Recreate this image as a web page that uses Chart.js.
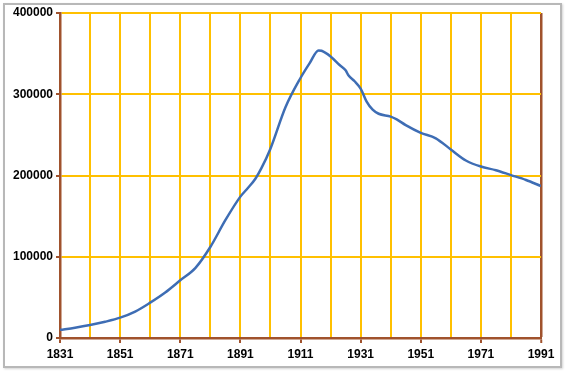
<!DOCTYPE html>
<html lang="en">
<head>
    <meta charset="UTF-8">
    <title>Population 1831-1991</title>
    <script src="https://cdn.jsdelivr.net/npm/chart.js"></script>
    <style>
        body { margin: 0; background: #ffffff; }
        #wrap { position: relative; width: 566px; height: 373px; }
        #frame {
            position: absolute; left: 3px; top: 3px; width: 555px; height: 361px;
            border: 2px solid #b8b8b8; box-shadow: 1px 1px 2px #d4d4d4;
        }
        canvas { position: absolute; left: 0; top: 0; }
    </style>
</head>
<body>
    <div id="wrap">
        <div id="frame"></div>
        <canvas id="popChart" width="566" height="373"></canvas>
    </div>
    <script>
        // values
        const years = [1831, 1836, 1841, 1846, 1851, 1856, 1861, 1866, 1871, 1876,
            1881, 1886, 1891, 1893, 1896, 1898, 1901, 1906, 1911, 1914,
            1917, 1918, 1921, 1924, 1926, 1927, 1929, 1931, 1933, 1935,
            1937, 1941, 1943, 1946, 1951, 1956, 1961, 1966, 1971, 1976,
            1981, 1986, 1991];
        const population = [10000, 12700, 16000, 20000, 25000, 32500, 43500, 56000, 71000, 86000,
            112000, 145000, 174000, 182500, 196000, 209000, 233000, 284000, 320000, 338000,
            354000, 353500, 346500, 336000, 329500, 323000, 316000, 307000, 291000, 281000,
            276000, 272500, 269000, 262000, 252500, 245800, 232000, 218500, 211000, 206500,
            200500, 194500, 187000];
        const gridYears = [1831, 1841, 1851, 1861, 1871, 1881, 1891, 1901, 1911, 1921,
            1931, 1941, 1951, 1961, 1971, 1981, 1991];
        const labelYears = [1831, 1851, 1871, 1891, 1911, 1931, 1951, 1971, 1991];
        const yTicks = [0, 100000, 200000, 300000, 400000];

        const gold = '#ffc000';
        const brown = '#a0522d';
        const blue = '#3e6db4';
        const tickFont = { family: 'Liberation Sans', size: 12, weight: 'bold' };

        const ctx = document.getElementById('popChart').getContext('2d');
        new Chart(ctx, {
            type: 'line',
            data: {
                datasets: [{
                    data: years.map((y, i) => ({ x: y, y: population[i] })),
                    borderColor: blue,
                    borderWidth: 2.5,
                    pointRadius: 0,
                    tension: 0.4,
                    cubicInterpolationMode: 'monotone',
                    fill: false
                }]
            },
            options: {
                responsive: false,
                animation: false,
                layout: { padding: { left: 0, right: 25, top: 13, bottom: 0 } },
                plugins: { legend: { display: false }, tooltip: { enabled: false } },
                scales: {
                    x: {
                        type: 'linear',
                        min: 1831,
                        max: 1991,
                        afterBuildTicks: scale => { scale.ticks = gridYears.map(v => ({ value: v })); },
                        afterFit: scale => { scale.height = 35; },
                        ticks: {
                            color: '#000',
                            font: tickFont,
                            padding: 4,
                            maxRotation: 0,
                            autoSkip: false,
                            callback: v => labelYears.includes(v) ? String(v) : ''
                        },
                        grid: {
                            color: c => (c.tick && c.tick.value === 1991) ? brown : (c.tick && c.tick.value === 1831 ? 'rgba(0,0,0,0)' : gold),
                            lineWidth: c => (c.tick && c.tick.value === 1991) ? 2.5 : 2,
                            tickColor: c => (c.tick && labelYears.includes(c.tick.value)) ? brown : 'rgba(0,0,0,0)',
                            tickLength: 5,
                            tickWidth: 2
                        },
                        border: { color: brown, width: 2.5 }
                    },
                    y: {
                        min: 0,
                        max: 400000,
                        afterBuildTicks: scale => { scale.ticks = yTicks.map(v => ({ value: v })); },
                        afterFit: scale => { scale.width = 60; },
                        ticks: {
                            color: '#000',
                            font: tickFont,
                            padding: 3,
                            callback: v => String(v)
                        },
                        grid: {
                            color: c => (c.tick && c.tick.value === 0) ? 'rgba(0,0,0,0)' : gold,
                            lineWidth: 2,
                            tickColor: brown,
                            tickLength: 4,
                            tickWidth: 2
                        },
                        border: { color: brown, width: 2.5 }
                    }
                }
            }
        });
    </script>
</body>
</html>
